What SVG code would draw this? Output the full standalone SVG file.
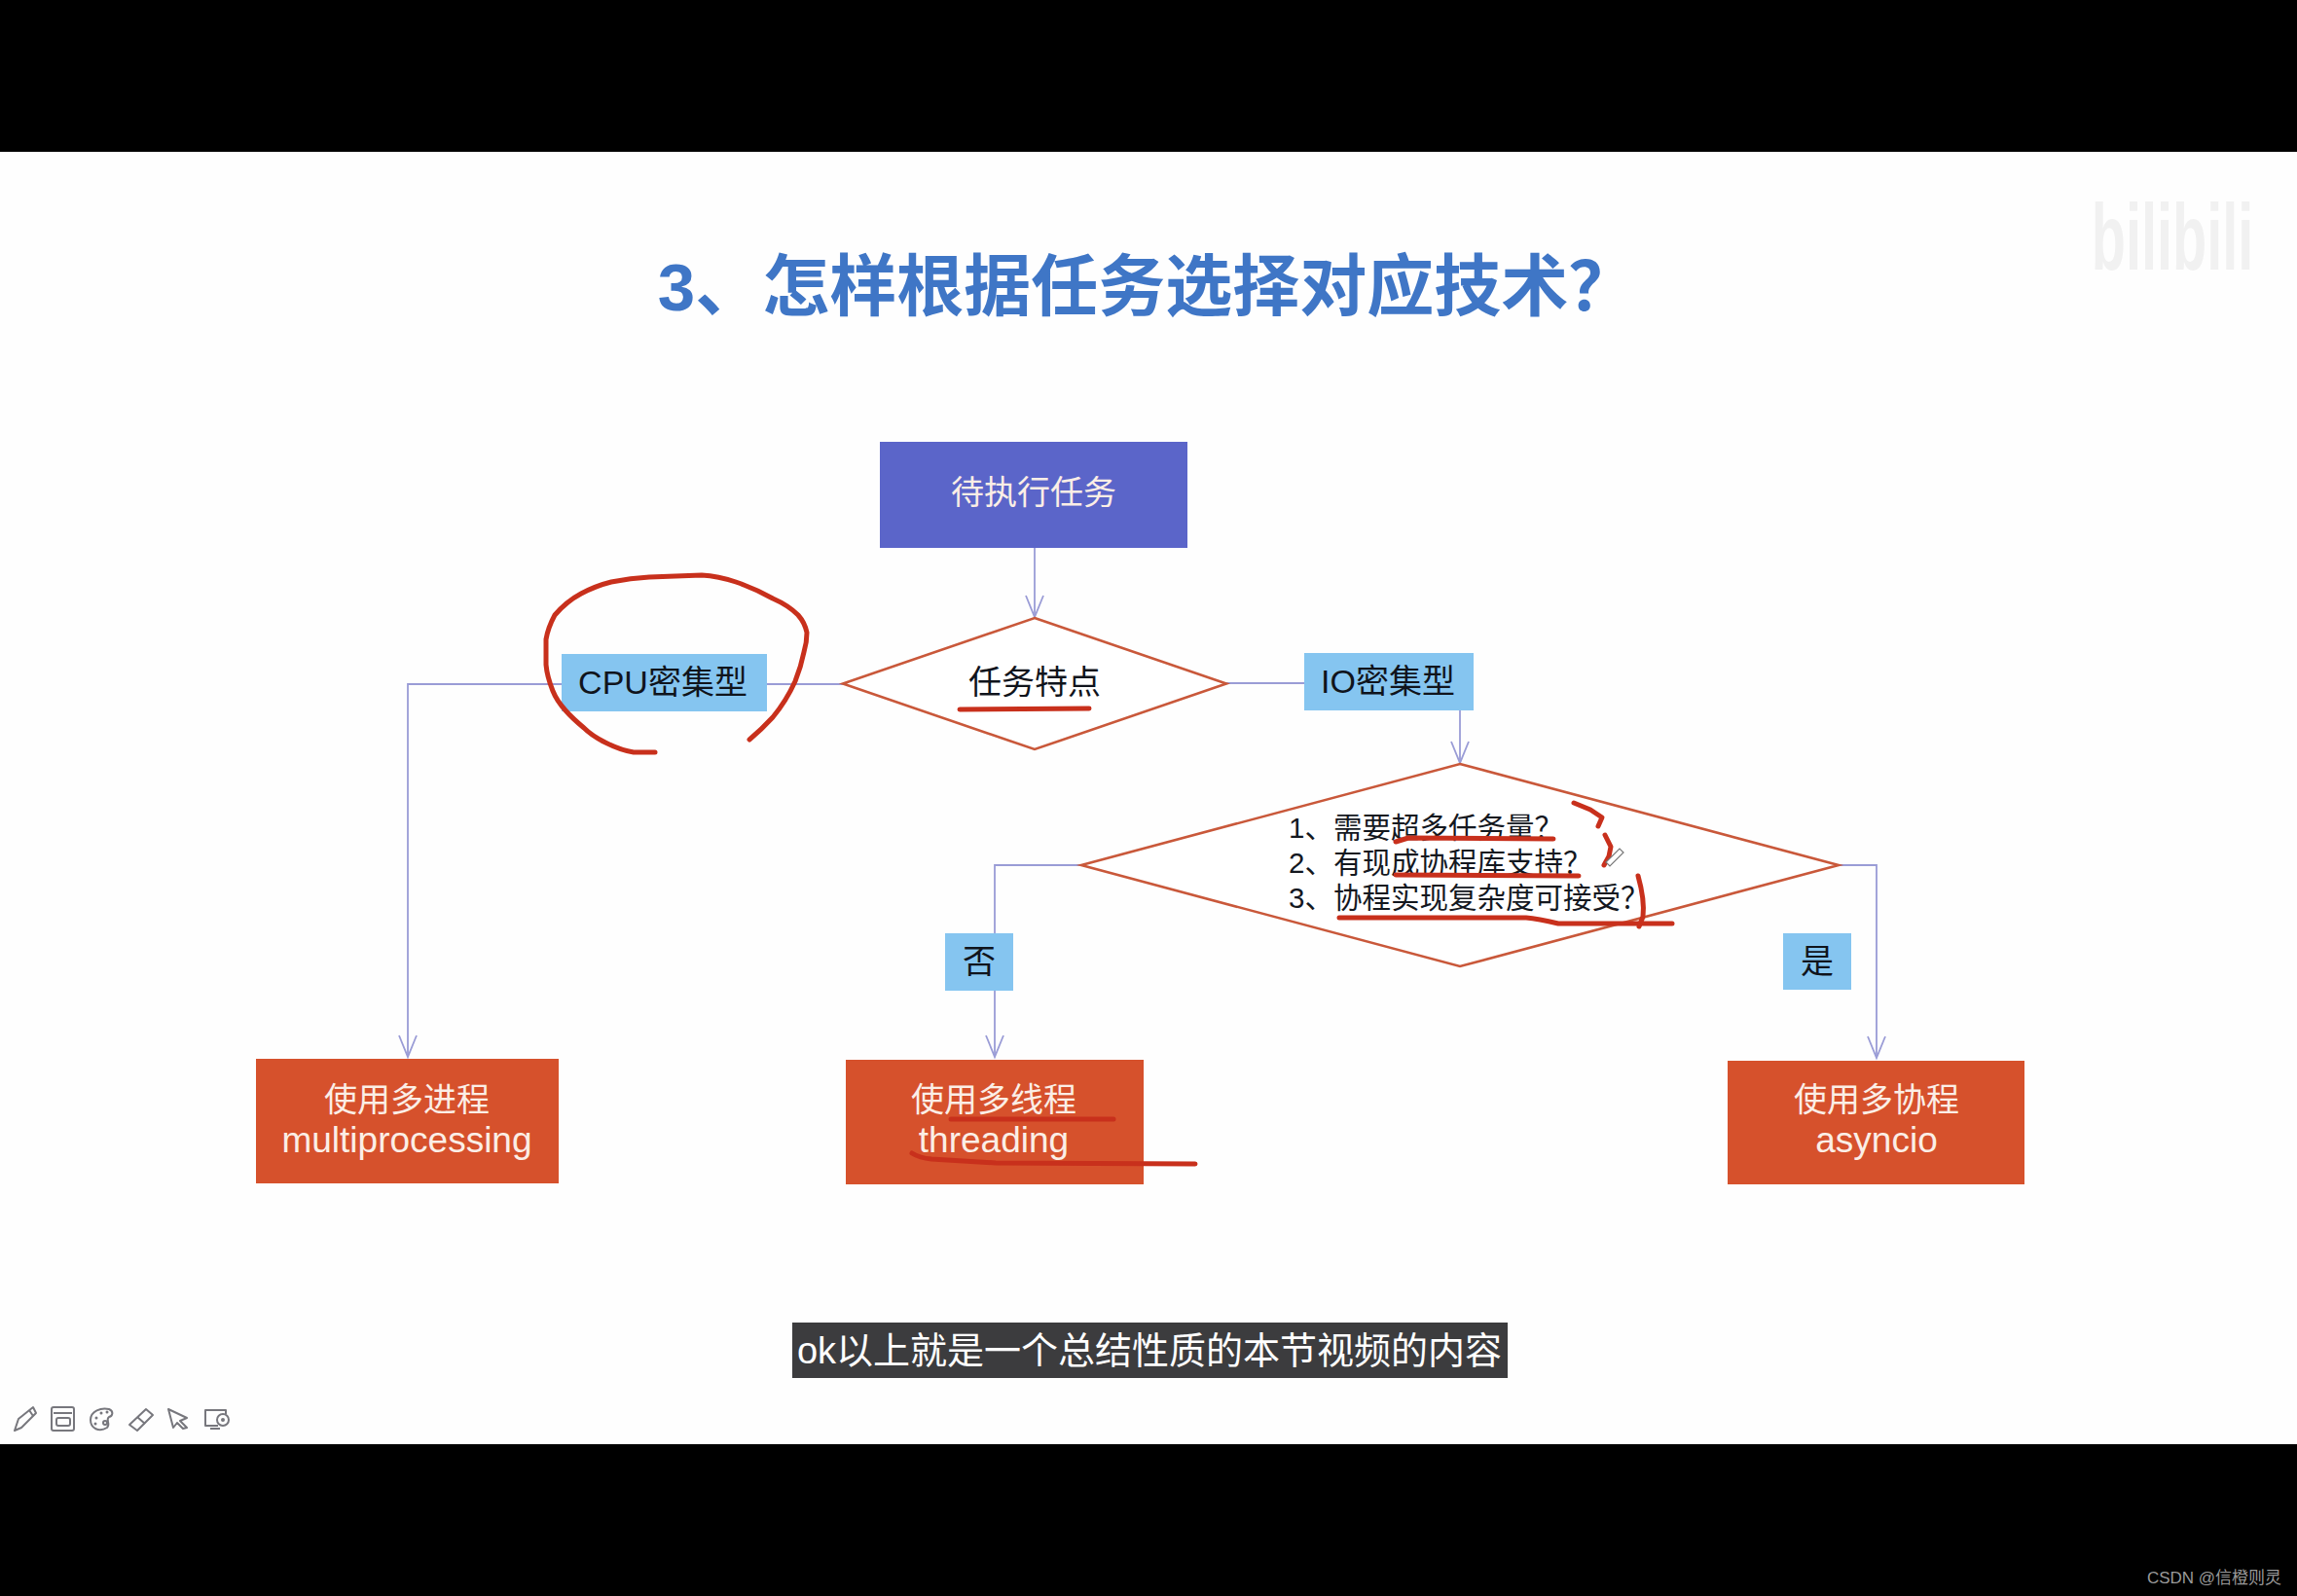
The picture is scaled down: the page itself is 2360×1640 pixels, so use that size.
<svg xmlns="http://www.w3.org/2000/svg" width="2360" height="1640" viewBox="0 0 2360 1640">
<style>
text{font-family:"Liberation Sans","Noto Sans CJK SC",sans-serif;text-anchor:middle}
.cjk{font-family:"Noto Sans CJK SC","Liberation Sans",sans-serif}
.conn{fill:none;stroke:#9a9cd6;stroke-width:1.8}
.dia{fill:#fff;stroke:#c9583a;stroke-width:2.6}
.blue{fill:#85c5f0}
.or{fill:#d6512c}
.lab{font-size:34px;fill:#10141c}
.wh{font-size:34px;fill:#fbeee6}
.lat{font-size:37px;fill:#fbeee6}
.q{font-size:29.500px;fill:#14181f;text-anchor:start}
.ink{fill:none;stroke:#c8301c;stroke-linecap:round;stroke-linejoin:round;stroke-width:5}
.ic{fill:none;stroke:#77777d;stroke-width:2;stroke-linejoin:round}
.dot{fill:#77777d}
</style>
<rect width="2360" height="1640" fill="#000"/>
<rect y="156" width="2360" height="1328" fill="#fefefe"/>
<text transform="translate(2232 277) scale(0.6 1)" font-size="96" font-weight="700" fill="#f1f1f1">bilibili</text>
<text id="title" x="1178" y="319" font-size="69" font-weight="700" fill="#3f76c6"><tspan>3</tspan><tspan class="cjk">、怎样根据任务选择对应技术？</tspan></text>

<g id="connectors">
<path class="conn" d="M1063 563V634"/><path class="conn" d="M1054 612L1063 634L1072 612"/>
<path class="conn" d="M866 703H419V1086"/><path class="conn" d="M410 1064L419 1086L428 1064"/>
<path class="conn" d="M1260 702H1340"/>
<path class="conn" d="M1500 730V784"/><path class="conn" d="M1491 762L1500 784L1509 762"/>
<path class="conn" d="M1111 889H1022V1086"/><path class="conn" d="M1013 1064L1022 1086L1031 1064"/>
<path class="conn" d="M1889 889H1928V1087"/><path class="conn" d="M1919 1065L1928 1087L1937 1065"/>
</g>

<g id="start"><rect x="904" y="454" width="316" height="109" fill="#5b65c9"/><text class="wh" x="1062" y="518">待执行任务</text></g>
<g id="d1"><path class="dia" d="M1063 635L1260 702.500L1063 770L866 702.500Z"/><text class="lab" x="1063" y="713">任务特点</text></g>
<g id="cpu"><rect class="blue" x="577" y="672" width="211" height="59"/><text class="lab" x="681" y="713">CPU密集型</text></g>
<g id="io"><rect class="blue" x="1340" y="671" width="174" height="59"/><text class="lab" x="1426" y="712">IO密集型</text></g>
<g id="d2"><path class="dia" d="M1500 785L1889 889L1500 993L1111 889Z"/>
<text class="q" x="1324" y="861">1<tspan class="cjk">、需要超多任务量？</tspan></text>
<text class="q" x="1324" y="897">2<tspan class="cjk">、有现成协程库支持？</tspan></text>
<text class="q" x="1324" y="933">3<tspan class="cjk">、协程实现复杂度可接受？</tspan></text></g>
<g id="no"><rect class="blue" x="971" y="959" width="70" height="59"/><text class="lab" x="1006" y="1000">否</text></g>
<g id="yes"><rect class="blue" x="1832" y="959" width="70" height="58"/><text class="lab" x="1867" y="1000">是</text></g>
<g id="mp"><rect class="or" x="263" y="1088" width="311" height="128"/><text class="wh" x="418" y="1142">使用多进程</text><text class="lat" x="418" y="1184">multiprocessing</text></g>
<g id="th"><rect class="or" x="869" y="1089" width="306" height="128"/><text class="wh" x="1021" y="1142">使用多线程</text><text class="lat" x="1021" y="1184">threading</text></g>
<g id="as"><rect class="or" x="1775" y="1090" width="305" height="127"/><text class="wh" x="1928" y="1142">使用多协程</text><text class="lat" x="1928" y="1184">asyncio</text></g>

<g id="ink">
<path class="ink" d="M673 773L651 773Q638 771 622 763Q608 756 600 748Q588 738 581 730Q572 720 568 710Q562 695 561 683L561 657Q563 645 570 632Q582 618 597 610Q612 602 628 598Q648 594 667 593L721 591Q738 592 756 598Q776 605 794 615Q810 622 820 632Q827 640 829 650Q829 660 826 670Q823 685 817 700Q808 720 794 737Q782 750 770 760"/>
<path class="ink" d="M986 729L1119 728"/>
<path class="ink" d="M1434 865L1447 861L1596 862"/>
<path class="ink" d="M1434 899L1622 900"/>
<path class="ink" d="M1376 943L1568 943Q1580 944 1601 949L1718 949"/>
<path class="ink" d="M1683 900Q1690 925 1688 942L1684 952"/>
<path class="ink" d="M1617 825L1634 832L1646 840L1642 849"/>
<path class="ink" d="M1649 858L1655 870L1653 880L1648 889"/>
<path d="M1650 886L1664 872L1668 876L1654 890Z" fill="#fff" stroke="#777" stroke-width="1.200"/>
<path class="ink" d="M977 1150L1144 1150"/>
<path class="ink" d="M937 1185Q945 1190 957 1191L1023 1195L1228 1196"/>
</g>

<g id="subtitle"><rect x="814" y="1359" width="735" height="57" fill="#3c3c3e"/><text x="1181" y="1401" font-size="38" fill="#fff">ok以上就是一个总结性质的本节视频的内容</text></g>

<g id="tools">
<path class="ic" d="M15 1470L19 1458L34 1446L37 1452L22 1467Z"/><path class="ic" d="M30 1449L34 1455"/>
<rect class="ic" x="53" y="1446" width="23" height="24" rx="2"/><path class="ic" d="M55 1452H74"/><rect class="ic" x="58" y="1457" width="14" height="8" rx="2"/>
<path class="ic" d="M93 1459C93 1450 104 1446 112 1448C117 1450 116 1455 112 1456C108 1459 114 1463 110 1467C102 1472 93 1468 93 1459Z"/><circle class="dot" cx="99" cy="1457" r="1.500"/><circle class="dot" cx="104" cy="1452" r="1.500"/><circle class="dot" cx="110" cy="1451" r="1.500"/><circle class="dot" cx="98" cy="1463" r="1.500"/><circle class="ic" cx="108" cy="1462" r="2"/>
<path class="ic" d="M133 1464L150 1448L157 1454L141 1470Z"/><path class="ic" d="M141 1456L149 1463"/>
<path class="ic" d="M173 1448L192 1457L185 1460L192 1467L188 1468L182 1462L178 1467Z"/>
<path class="ic" d="M224 1465H211V1449H232V1453"/><circle class="ic" cx="229" cy="1459" r="6"/><circle class="dot" cx="229" cy="1459" r="2"/><path class="ic" d="M216 1468H226"/>
</g>
<text id="csdn" x="2275" y="1627" font-size="17" fill="#9a9a9a">CSDN @信橙则灵</text>
</svg>
